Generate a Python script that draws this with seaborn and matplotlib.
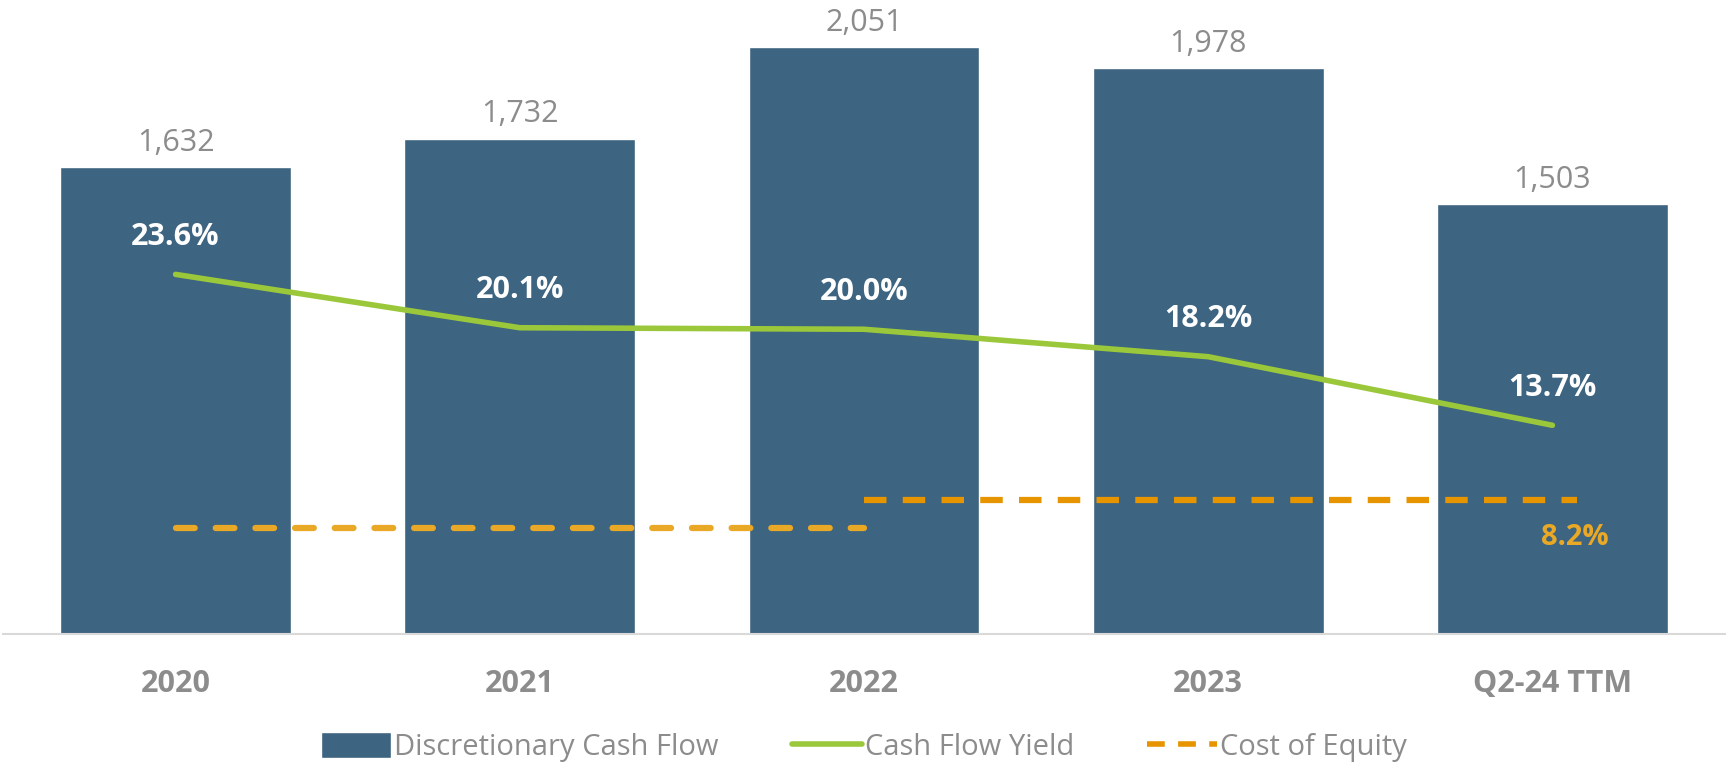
import numpy as np
import matplotlib.pyplot as plt
import seaborn as sns
from matplotlib.patches import Patch
from matplotlib.lines import Line2D

# chart data
periods = ['2020', '2021', '2022', '2023', 'Q2-24 TTM']
cash_flow = [1632, 1732, 2051, 1978, 1503]
cf_yield = [23.6, 20.1, 20.0, 18.2, 13.7]
# cost of equity: earlier level (2020-2022) and latest level (2022-Q2-24)
coe_values = [6.5, 8.2]
coe_spans = [(0, 2), (2, 4)]

bar_color = '#3D6480'
green = '#9BC83B'
orange_light = '#E9A825'
orange = '#E69500'
grey = '#8C8C8C'

sns.set_style('white')
plt.rcParams['font.family'] = ['Open Sans', 'DejaVu Sans']

fig = plt.figure(figsize=(17.28, 7.64), dpi=100)
ax = fig.add_axes([0.002, 0.17, 0.996, 0.83])

sns.barplot(x=periods, y=cash_flow, color=bar_color, width=0.67, saturation=1, ax=ax)
ax.set_ylim(0, 2217)
ax.set_xlim(-0.5, 4.5)
for s in ['top', 'right', 'left']:
    ax.spines[s].set_visible(False)
ax.spines['bottom'].set_color('#D9D9D9')
ax.spines['bottom'].set_linewidth(1.5)
ax.set_yticks([])
ax.set_xlabel('')
ax.set_ylabel('')
ax.tick_params(axis='x', length=0, pad=25, labelsize=22, labelcolor=grey)
for t in ax.get_xticklabels():
    t.set_fontweight('bold')
ax.bar_label(ax.containers[0], labels=[f'{v:,}' for v in cash_flow],
             padding=7, fontsize=22, color=grey)

# cash flow yield line
ax2 = ax.twinx()
x = np.arange(len(periods))
sns.lineplot(x=x, y=cf_yield, color=green, linewidth=4, ax=ax2)
ax2.lines[0].set_solid_capstyle('round')
ax2.set_ylim(0, 41.6)
ax2.set_xlim(-0.5, 4.5)
ax2.axis('off')
for xi, v in zip(x, cf_yield):
    ax2.annotate(f'{v:.1f}%', (xi, v), xytext=(0, 27), textcoords='offset points',
                 ha='center', va='center', fontsize=22, fontweight='bold', color='white')

# cost of equity dashes
ax3 = ax.twinx()
ax3.set_ylim(0, 38.7)
ax3.set_xlim(-0.5, 4.5)
ax3.axis('off')
ax3.plot(coe_spans[0], [coe_values[0]] * 2, color=orange_light, linewidth=4.5,
         dashes=(3, 3.35), dash_capstyle='round')
ax3.plot([coe_spans[1][0], coe_spans[1][1] + 0.07], [coe_values[1]] * 2, color=orange,
         linewidth=4.5, dashes=(3.6, 2.6))
ax3.annotate(f'{coe_values[1]:.1f}%', (coe_spans[1][1], coe_values[1]), xytext=(16, -27),
             textcoords='offset points', ha='center', va='center', fontsize=21,
             fontweight='bold', color=orange_light)

handles = [Patch(facecolor=bar_color, label='Discretionary Cash Flow'),
           Line2D([0], [0], color=green, linewidth=4, label='Cash Flow Yield'),
           Line2D([0], [0], color=orange, linewidth=4, dashes=(3.2, 2.4), label='Cost of Equity')]
fig.legend(handles=handles, loc='center', bbox_to_anchor=(0.5, 0.022), ncol=3,
           frameon=False, fontsize=21, labelcolor=grey, handlelength=2.4,
           handleheight=1.0, handletextpad=0.1, columnspacing=2.5)

fig.savefig('out.png', dpi=100)
